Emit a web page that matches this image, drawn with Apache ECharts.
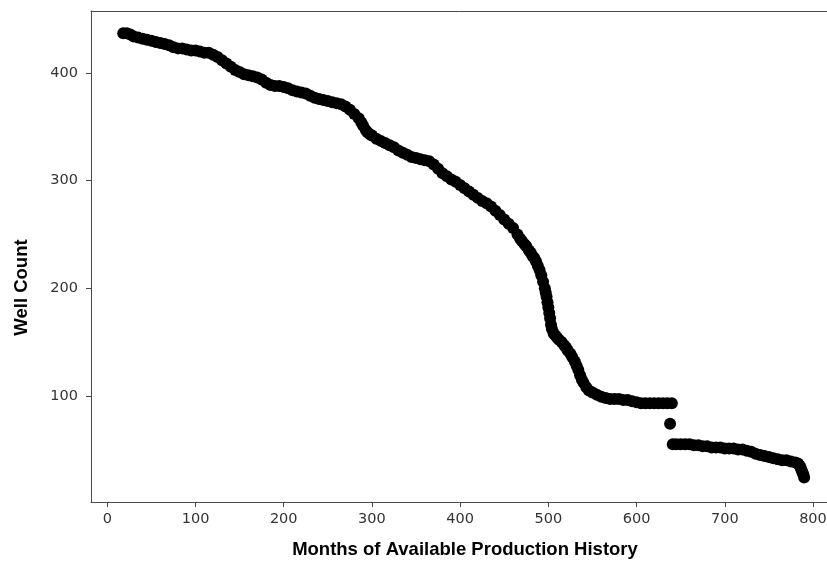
<!DOCTYPE html>
<html>
<head>
<meta charset="utf-8">
<script src="https://cdn.jsdelivr.net/npm/echarts@6/dist/echarts.min.js"></script>
<style>html,body{margin:0;padding:0;background:#fff;}#c{width:827px;height:562px;}</style>
</head>
<body>
<div id="c"></div>
<script>
// Months of available production history (x) and well count (y)
const months = [18,22,26,30,35,40,45,50,55,60,65,70,75,80,85,90,95,100,105,110,115,120,125,130,135,140,145,150,155,160,165,170,175,180,185,190,195,200,205,210,215,220,225,230,235,240,245,250,255,260,265,270,275,280,285,288,290,293,295,298,300,305,310,315,320,325,330,335,340,345,350,355,360,365,370,375,380,385,390,395,400,405,410,415,420,425,430,435,440,445,450,455,460,465,468,470,473,475,478,480,482,484,486,488,490,492,494,496,497,498,499,500,501,502,503,504,506,508,510,512,515,518,520,522,525,527,530,532,534,536,538,540,543,546,550,555,560,565,570,575,580,585,590,595,600,605,610,615,620,625,630,635,640,638,641,645,650,655,660,665,670,675,680,685,690,695,700,705,710,715,720,725,730,735,740,745,750,755,760,765,770,775,780,783,785,786,787,788,789,790];
const wells = [437,437,436,434,433,432,431,430,429,428,427,426,424,423,423,422,421,421,420,419,419,417,415,412,409,406,403,401,399,398,397,396,394,391,389,388,388,387,386,384,383,382,381,379,377,376,375,374,373,372,371,369,366,362,358,354,351,347,345,343,342,339,337,335,333,331,328,326,324,322,321,320,319,318,315,311,307,304,301,299,296,293,290,287,284,281,279,276,272,268,264,260,256,250,246,244,241,239,235,233,230,228,225,221,217,212,206,200,196,192,187,182,177,172,166,162,158,156,154,152,150,147,145,142,139,136,132,128,124,119,115,112,108,105,103,101,99,98,97,97,97,96,96,95,94,93,93,93,93,93,93,93,93,74,55,55,55,55,55,54,54,53,53,52,52,52,51,51,51,50,50,49,48,46,45,44,43,42,41,40,40,39,38,37,35,33,31,29,27,24];
const xTicks = [0,100,200,300,400,500,600,700,800];
const yTicks = [100,200,300,400];

const points = months.map((m, i) => [m, wells[i]]);
const chart = echarts.init(document.getElementById('c'), null, {renderer: 'canvas'});
const axisColor = '#4a4a4a';
const xMin = -18.5, xMax = 829.5;
chart.setOption({
  animation: false,
  backgroundColor: '#ffffff',
  grid: {left: 91, top: 11, width: 748, height: 491, outerBoundsMode: 'none', containLabel: false, show: false},
  xAxis: [{
    type: 'value', min: xMin, max: xMax, position: 'bottom',
    name: 'Months of Available Production History', nameLocation: 'middle', nameGap: 38,
    nameTextStyle: {fontFamily: 'Liberation Sans', fontWeight: 'bold', fontSize: 18.5, color: '#000'},
    axisLine: {show: true, onZero: false, lineStyle: {color: axisColor, width: 1}},
    axisTick: {show: true, inside: false, length: 5, lineStyle: {color: axisColor}, customValues: xTicks},
    axisLabel: {margin: 10, fontFamily: 'DejaVu Sans', fontSize: 14.5, color: '#333', customValues: xTicks},
    splitLine: {show: false}
  }, {
    type: 'value', min: xMin, max: xMax, position: 'top',
    axisLine: {show: true, onZero: false, lineStyle: {color: axisColor, width: 1}},
    axisTick: {show: false}, axisLabel: {show: false}, splitLine: {show: false}
  }],
  yAxis: {
    type: 'value', min: 1.25, max: 457.75,
    name: 'Well Count', nameLocation: 'middle', nameGap: 60, nameRotate: 90,
    nameTextStyle: {fontFamily: 'Liberation Sans', fontWeight: 'bold', fontSize: 18.5, color: '#000', padding: [0, 62, 0, 0]},
    axisLine: {show: true, onZero: false, lineStyle: {color: axisColor, width: 1}},
    axisTick: {show: true, inside: false, length: 5, lineStyle: {color: axisColor}, customValues: yTicks},
    axisLabel: {margin: 13, fontFamily: 'DejaVu Sans', fontSize: 14.5, color: '#333', customValues: yTicks},
    splitLine: {show: false}
  },
  series: [{
    type: 'scatter',
    data: points,
    xAxisIndex: 0,
    symbol: 'circle',
    symbolSize: 12,
    itemStyle: {color: '#000', opacity: 1},
    clip: false
  }]
});
</script>
</body>
</html>
